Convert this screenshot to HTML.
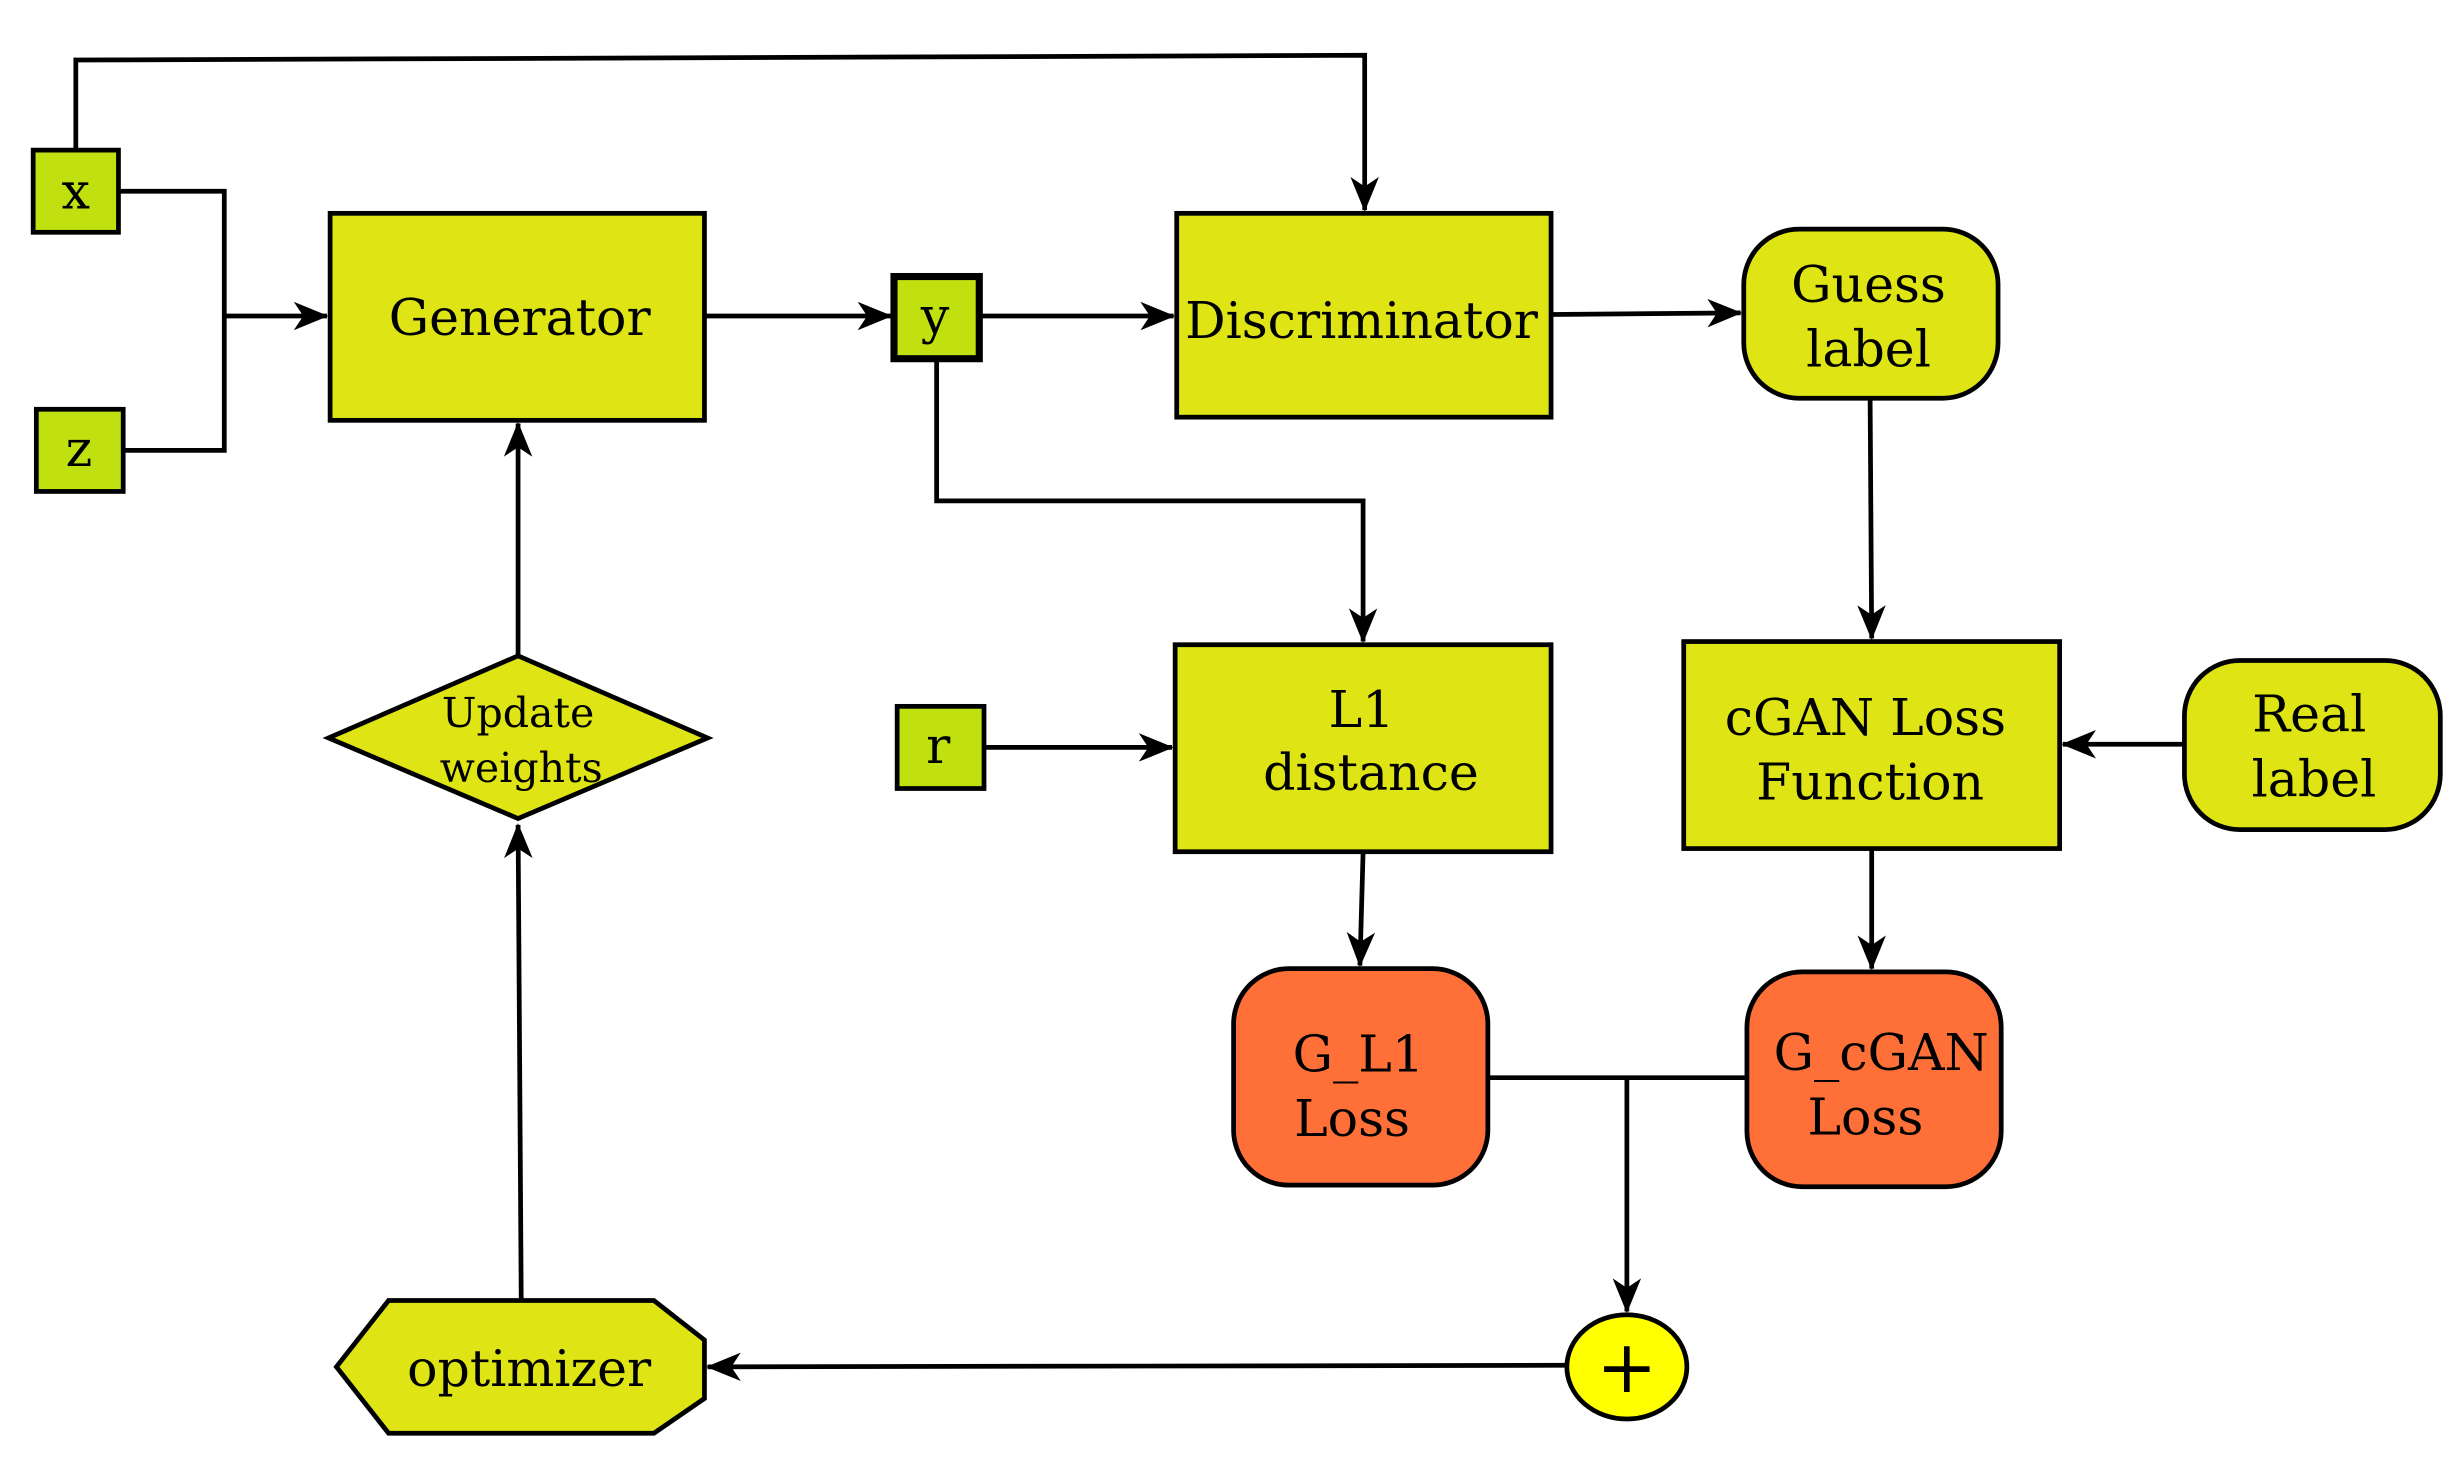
<!DOCTYPE html>
<html><head><meta charset="utf-8"><style>html,body{margin:0;padding:0;background:#fff}svg{display:block}</style></head>
<body>
<svg width="2464" height="1468" viewBox="0 0 1560 929" preserveAspectRatio="none" xmlns="http://www.w3.org/2000/svg">
<defs>
<marker id="a" viewBox="0 0 22 18" refX="21" refY="9" markerWidth="22" markerHeight="18" markerUnits="userSpaceOnUse" orient="auto">
<path d="M0,0 L22,9 L0,18 L6,9 z" fill="#000"/>
</marker>
</defs>
<g fill="none" stroke="#000" stroke-width="3">
<polyline points="48,95 48,38 864,35 864,133" marker-end="url(#a)"/>
<polyline points="75,121 142,121 142,285 78,285"/>
<line x1="142" y1="200" x2="207" y2="200" marker-end="url(#a)"/>
<line x1="446" y1="200" x2="564" y2="200" marker-end="url(#a)"/>
<line x1="620" y1="200" x2="743" y2="200" marker-end="url(#a)"/>
<polyline points="593,227 593,317 863,317 863,406" marker-end="url(#a)"/>
<line x1="982" y1="199" x2="1102" y2="198" marker-end="url(#a)"/>
<line x1="1184" y1="252" x2="1185" y2="404" marker-end="url(#a)"/>
<line x1="1383" y1="471" x2="1306" y2="471" marker-end="url(#a)"/>
<line x1="623" y1="473" x2="742" y2="473" marker-end="url(#a)"/>
<line x1="863" y1="539" x2="861" y2="611" marker-end="url(#a)"/>
<line x1="1185" y1="537" x2="1185" y2="613" marker-end="url(#a)"/>
<line x1="942" y1="682" x2="1106" y2="682"/>
<line x1="1030" y1="682" x2="1030" y2="830" marker-end="url(#a)"/>
<line x1="992" y1="864" x2="448" y2="865" marker-end="url(#a)"/>
<line x1="330" y1="823" x2="328" y2="522" marker-end="url(#a)"/>
<line x1="328" y1="415" x2="328" y2="268" marker-end="url(#a)"/>
</g>
<g stroke="#000" stroke-width="3">
<rect x="21" y="95" width="54" height="52" fill="#c0e010"/>
<rect x="23" y="259" width="55" height="52" fill="#c0e010"/>
<rect x="566" y="175" width="54" height="52" fill="#c0e010" stroke-width="4.5"/>
<rect x="568" y="447" width="55" height="52" fill="#c0e010"/>
<rect x="209" y="135" width="237" height="131" fill="#dfe515"/>
<rect x="745" y="135" width="237" height="129" fill="#dfe515"/>
<rect x="744" y="408" width="238" height="131" fill="#dfe515"/>
<rect x="1066" y="406" width="238" height="131" fill="#dfe515"/>
<rect x="1104" y="145" width="161" height="107" rx="35" fill="#dfe515"/>
<rect x="1383" y="418" width="162" height="107" rx="35" fill="#dfe515"/>
<rect x="781" y="613" width="161" height="137" rx="35" fill="#ff7038"/>
<rect x="1106" y="615" width="161" height="136" rx="35" fill="#ff7038"/>
<polygon points="208,467 328,415 448,467 328,518" fill="#dfe515"/>
<polygon points="213,865 246,823 414,823 446,848 446,885 414,907 246,907" fill="#dfe515"/>
<ellipse cx="1030" cy="865" rx="38" ry="33" fill="#ffff00"/>
</g>
<g font-family="'DejaVu Serif','Liberation Serif',serif" font-size="32" fill="#000" text-anchor="middle">
<text x="48" y="132">x</text>
<text x="50" y="295">z</text>
<text x="592" y="211">y</text>
<text x="594" y="483">r</text>
<text x="329" y="212">Generator</text>
<text x="862" y="214">Discriminator</text>
<text x="1183" y="191">Guess</text>
<text x="1183" y="232">label</text>
<text x="862" y="460">L1</text>
<text x="868" y="500">distance</text>
<text x="1181" y="465">cGAN Loss</text>
<text x="1184" y="506">Function</text>
<text x="1462" y="463">Real</text>
<text x="1465" y="504">label</text>
<text x="860" y="678">G_L1</text>
<text x="856" y="719">Loss</text>
<text x="1191" y="677">G_cGAN</text>
<text x="1181" y="718">Loss</text>
<text x="335" y="877">optimizer</text>
<text x="328" y="460" font-size="26">Update</text>
<text x="330" y="495" font-size="26">weights</text>
<text x="1030" y="881" font-size="46">+</text>
</g>
</svg>
</body></html>
